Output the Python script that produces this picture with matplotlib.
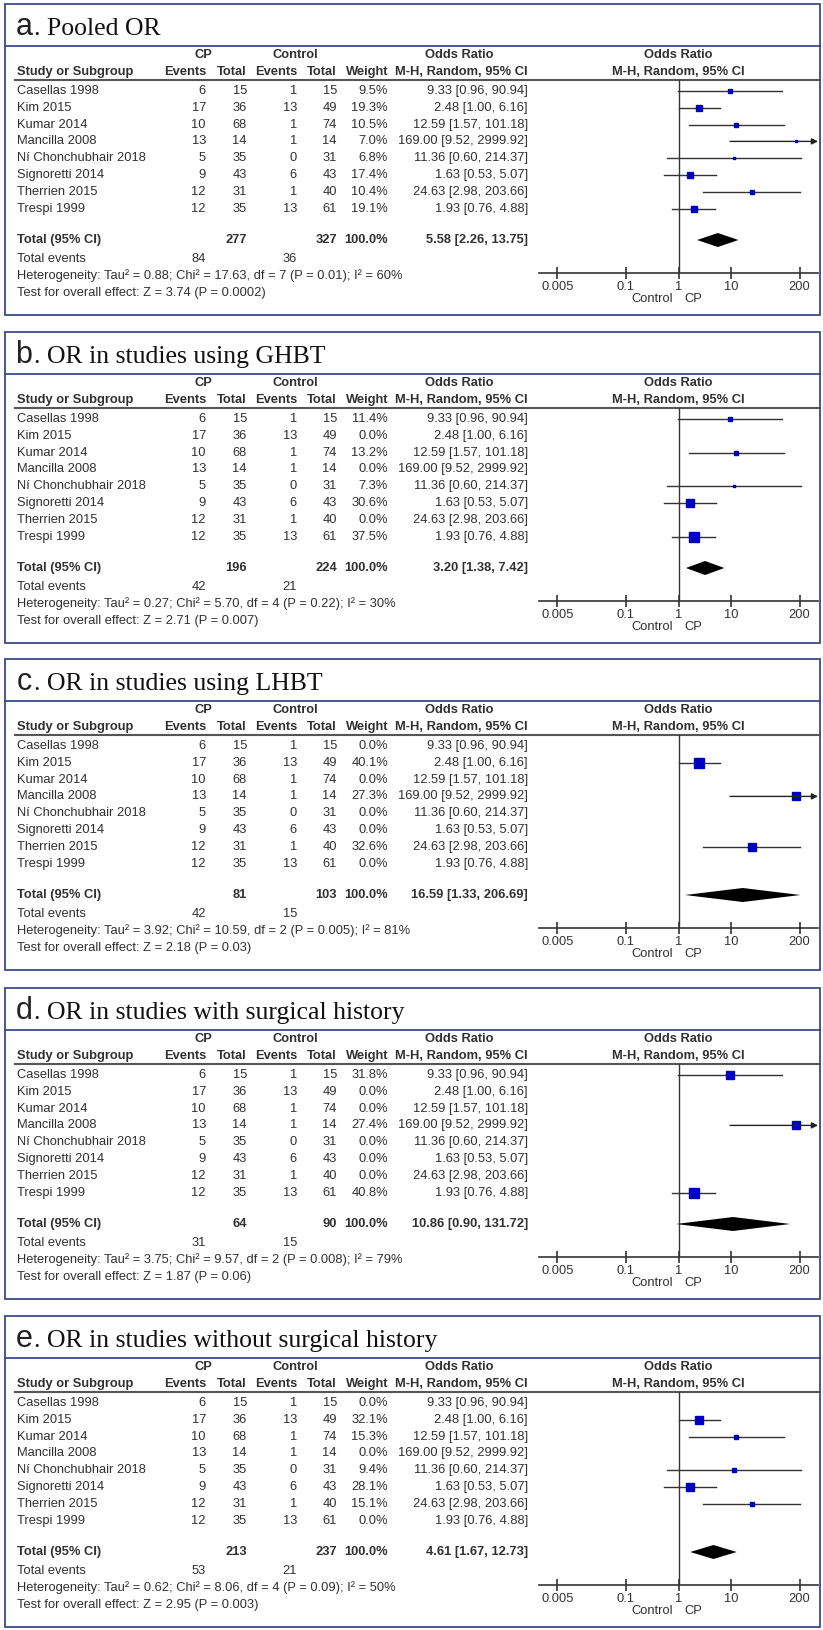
import matplotlib
matplotlib.use("Agg")
import matplotlib.pyplot as plt
from matplotlib.patches import Rectangle

# study level data (same in every panel)
studies = ["Casellas 1998", "Kim 2015", "Kumar 2014", "Mancilla 2008",
           "Ní Chonchubhair 2018", "Signoretti 2014", "Therrien 2015", "Trespi 1999"]
cp_events = [6, 17, 10, 13, 5, 9, 12, 12]
cp_total = [15, 36, 68, 14, 35, 43, 31, 35]
ctl_events = [1, 13, 1, 1, 0, 6, 1, 13]
ctl_total = [15, 49, 74, 14, 31, 43, 40, 61]
or_est = [9.33, 2.48, 12.59, 169.00, 11.36, 1.63, 24.63, 1.93]
or_lo = [0.96, 1.00, 1.57, 9.52, 0.60, 0.53, 2.98, 0.76]
or_hi = [90.94, 6.16, 101.18, 2999.92, 214.37, 5.07, 203.66, 4.88]

# panel level data
letters = ["a", "b", "c", "d", "e"]
titles = ["Pooled OR", "OR in studies using GHBT", "OR in studies using LHBT",
          "OR in studies with surgical history", "OR in studies without surgical history"]
weights = [
    [9.5, 19.3, 10.5, 7.0, 6.8, 17.4, 10.4, 19.1],
    [11.4, 0.0, 13.2, 0.0, 7.3, 30.6, 0.0, 37.5],
    [0.0, 40.1, 0.0, 27.3, 0.0, 0.0, 32.6, 0.0],
    [31.8, 0.0, 0.0, 27.4, 0.0, 0.0, 0.0, 40.8],
    [0.0, 32.1, 15.3, 0.0, 9.4, 28.1, 15.1, 0.0],
]
sum_cp_total = [277, 196, 81, 64, 213]
sum_ctl_total = [327, 224, 103, 90, 237]
sum_cp_events = [84, 42, 42, 31, 53]
sum_ctl_events = [36, 21, 15, 15, 21]
pool_est = [5.58, 3.20, 16.59, 10.86, 4.61]
pool_lo = [2.26, 1.38, 1.33, 0.90, 1.67]
pool_hi = [13.75, 7.42, 206.69, 131.72, 12.73]
het_text = [
    "Tau² = 0.88; Chi² = 17.63, df = 7 (P = 0.01); I² = 60%",
    "Tau² = 0.27; Chi² = 5.70, df = 4 (P = 0.22); I² = 30%",
    "Tau² = 3.92; Chi² = 10.59, df = 2 (P = 0.005); I² = 81%",
    "Tau² = 3.75; Chi² = 9.57, df = 2 (P = 0.008); I² = 79%",
    "Tau² = 0.62; Chi² = 8.06, df = 4 (P = 0.09); I² = 50%",
]
z_text = ["Z = 3.74 (P = 0.0002)", "Z = 2.71 (P = 0.007)", "Z = 2.18 (P = 0.03)",
          "Z = 1.87 (P = 0.06)", "Z = 2.95 (P = 0.003)"]
tick_vals = [0.005, 0.1, 1, 10, 200]
tick_labels = ["0.005", "0.1", "1", "10", "200"]

plt.rcParams["font.family"] = ["Liberation Sans", "DejaVu Sans"]

W, H = 823, 1630
fig = plt.figure(figsize=(W / 100, H / 100), dpi=100)
ax0 = fig.add_axes([0, 0, 1, 1])
ax0.set_xlim(0, W)
ax0.set_ylim(H, 0)
ax0.axis("off")

box_col = "#3a4a8a"
txt_col = "#303030"
fs = 9.3
panel_tops = [4, 332, 659, 988, 1316]
xmin, xmax = 10 ** -2.65, 10 ** 2.65

for p in range(5):
    t = panel_tops[p]
    ax0.add_patch(Rectangle((5, t), 815, 311, fill=False, edgecolor=box_col, lw=1.3))
    ax0.plot([5, 820], [t + 42, t + 42], color=box_col, lw=1.3)
    ax0.text(24, t + 31, letters[p], fontsize=22, va="baseline", ha="center", color="#222")
    ax0.text(34, t + 31, ". " + titles[p], fontsize=18.5, va="baseline", color="#111",
             family=["Liberation Serif"])

    # header
    hy1, hy2 = t + 51, t + 68
    bold = dict(fontsize=fs, fontweight="bold", color=txt_col, va="center")
    ax0.text(203, hy1, "CP", ha="center", **bold)
    ax0.text(295, hy1, "Control", ha="center", **bold)
    ax0.text(459, hy1, "Odds Ratio", ha="center", **bold)
    ax0.text(678, hy1, "Odds Ratio", ha="center", **bold)
    ax0.text(17, hy2, "Study or Subgroup", ha="left", **bold)
    ax0.text(206, hy2, "Events", ha="right", **bold)
    ax0.text(247, hy2, "Total", ha="right", **bold)
    ax0.text(297, hy2, "Events", ha="right", **bold)
    ax0.text(337, hy2, "Total", ha="right", **bold)
    ax0.text(388, hy2, "Weight", ha="right", **bold)
    ax0.text(528, hy2, "M-H, Random, 95% CI", ha="right", **bold)
    ax0.text(678, hy2, "M-H, Random, 95% CI", ha="center", **bold)
    ax0.plot([15, 820], [t + 76, t + 76], color="#555555", lw=1.5)

    reg = dict(fontsize=fs, color=txt_col, va="center")
    for k in range(len(studies)):
        y = t + 87 + 16.8 * k
        ax0.text(17, y, studies[k], ha="left", **reg)
        ax0.text(206, y, str(cp_events[k]), ha="right", **reg)
        ax0.text(247, y, str(cp_total[k]), ha="right", **reg)
        ax0.text(297, y, str(ctl_events[k]), ha="right", **reg)
        ax0.text(337, y, str(ctl_total[k]), ha="right", **reg)
        ax0.text(388, y, "%.1f%%" % weights[p][k], ha="right", **reg)
        ax0.text(528, y, "%.2f [%.2f, %.2f]" % (or_est[k], or_lo[k], or_hi[k]), ha="right", **reg)

    ty = t + 236
    ax0.text(17, ty, "Total (95% CI)", ha="left", **bold)
    ax0.text(247, ty, str(sum_cp_total[p]), ha="right", **bold)
    ax0.text(337, ty, str(sum_ctl_total[p]), ha="right", **bold)
    ax0.text(388, ty, "100.0%", ha="right", **bold)
    ax0.text(528, ty, "%.2f [%.2f, %.2f]" % (pool_est[p], pool_lo[p], pool_hi[p]), ha="right", **bold)
    ax0.text(17, t + 255, "Total events", ha="left", **reg)
    ax0.text(206, t + 255, str(sum_cp_events[p]), ha="right", **reg)
    ax0.text(297, t + 255, str(sum_ctl_events[p]), ha="right", **reg)
    ax0.text(17, t + 272, "Heterogeneity: " + het_text[p], ha="left", **reg)
    ax0.text(17, t + 289, "Test for overall effect: " + z_text[p], ha="left", **reg)
    ax0.text(673, t + 295, "Control", ha="right", **reg)
    ax0.text(684, t + 295, "CP", ha="left", **reg)

    # forest plot
    left, right = 539 / W, 818 / W
    bottom = 1 - (t + 269) / H
    top = 1 - (t + 76) / H
    ax = fig.add_axes([left, bottom, right - left, top - bottom])
    ax.patch.set_alpha(0)
    ax.set_xscale("log")
    ax.set_xlim(xmin, xmax)
    ax.set_ylim(269, 76)
    ax.axvline(1, color="#333333", lw=1.0)
    for k in range(len(studies)):
        w = weights[p][k]
        if w <= 0:
            continue
        y = 87 + 16.8 * k
        if or_hi[k] > xmax:
            ax.annotate("", xy=(xmax, y), xytext=(or_lo[k], y),
                        arrowprops=dict(arrowstyle="-|>", color="#222222", lw=1.0,
                                        mutation_scale=9, shrinkA=0, shrinkB=0))
        else:
            ax.plot([or_lo[k], or_hi[k]], [y, y], color="#333333", lw=1.0)
        ax.plot(or_est[k], y, marker="s", ms=(1.2 + 0.22 * w) * 0.72,
                color="#0000c0", mec="#0000c0", lw=0)
    yd = 236
    ax.fill([pool_lo[p], pool_est[p], pool_hi[p], pool_est[p]],
            [yd, yd - 7, yd, yd + 7], color="black", lw=0)

    for s in ["top", "right", "left"]:
        ax.spines[s].set_visible(False)
    ax.spines["bottom"].set_color("#333333")
    ax.spines["bottom"].set_linewidth(1.2)
    ax.set_yticks([])
    ax.set_xticks(tick_vals)
    ax.set_xticklabels(tick_labels)
    ax.minorticks_off()
    ax.tick_params(axis="x", direction="inout", length=9, width=1.2, pad=1,
                   labelsize=fs, colors="#333333")

fig.savefig("out.png", dpi=100)
plt.close(fig)
